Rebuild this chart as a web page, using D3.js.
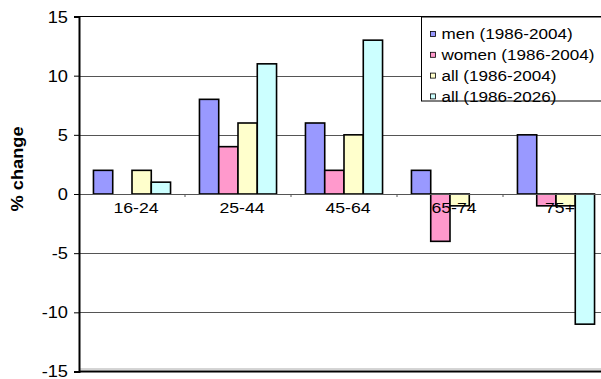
<!DOCTYPE html>
<html>
<head>
<meta charset="utf-8">
<script src="https://cdn.jsdelivr.net/npm/d3@7"></script>
<style>
  html, body { margin: 0; padding: 0; background: #fff; overflow: hidden; }
  svg { display: block; }
  text { font-family: "Liberation Sans", Arial, Helvetica, sans-serif; fill: #000; }
</style>
</head>
<body>
<svg id="chart" width="601" height="379"></svg>
<script>
// Age groups along the category axis
const categories = ["16-24", "25-44", "45-64", "65-74", "75+"];

// Series names (legend order) and their values, % change per age group
const seriesNames = ["men (1986-2004)", "women (1986-2004)", "all (1986-2004)", "all (1986-2026)"];
const men1986_2004   = [2, 8, 6, 2, 5];
const women1986_2004 = [0, 4, 2, -4, -1];
const all1986_2004   = [2, 6, 5, -1, -1];
const all1986_2026   = [1, 11, 13, 0, -11];
const seriesValues = [men1986_2004, women1986_2004, all1986_2004, all1986_2026];

// Value axis ticks
const yTicks = [-15, -10, -5, 0, 5, 10, 15];

const seriesColors = ["#9999ff", "#ff99cc", "#ffffcc", "#ccffff"];

const svg = d3.select("#chart");
const stretch = 1.14; // horizontal glyph widening for the label font

const plot = { left: 79, right: 609, top: 16.5, bottom: 371.5 };

const x = d3.scaleBand().domain(categories).range([plot.left, plot.right]).paddingInner(0).paddingOuter(0);
const y = d3.scaleLinear().domain([-15, 15]).range([plot.bottom, plot.top]);

// Bars sit in the middle of each band, gap = 1.5 bar widths
const barW = x.bandwidth() / 5.5;
const xs = d3.scaleBand().domain(d3.range(seriesNames.length))
  .range([0.75 * barW, 0.75 * barW + seriesNames.length * barW]).padding(0);

// Horizontal gridlines
svg.append("g").selectAll("line")
  .data(yTicks.filter(t => t !== -15 && t !== 15 && t !== 0))
  .join("line")
  .attr("x1", plot.left).attr("x2", plot.right)
  .attr("y1", d => Math.round(y(d)) + 0.5).attr("y2", d => Math.round(y(d)) + 0.5)
  .attr("stroke", "#555").attr("stroke-width", 1);

// Top edge of the plot area
svg.append("line")
  .attr("x1", plot.left).attr("x2", plot.right)
  .attr("y1", y(15)).attr("y2", y(15))
  .attr("stroke", "#000").attr("stroke-width", 1.2);

// Bottom edge of the plot area
svg.append("line")
  .attr("x1", plot.left).attr("x2", plot.right)
  .attr("y1", y(-15) - 2.5).attr("y2", y(-15) - 2.5)
  .attr("stroke", "#aaa").attr("stroke-width", 1);
svg.append("line")
  .attr("x1", plot.left).attr("x2", plot.right)
  .attr("y1", y(-15)).attr("y2", y(-15))
  .attr("stroke", "#000").attr("stroke-width", 2);

// Bars
const groups = svg.append("g").selectAll("g")
  .data(categories)
  .join("g")
  .attr("transform", d => `translate(${x(d)},0)`);

groups.selectAll("rect")
  .data((c, i) => seriesValues.map((vals, s) => ({ s, v: vals[i] })).filter(d => d.v !== 0))
  .join("rect")
  .attr("x", d => xs(d.s))
  .attr("width", xs.bandwidth())
  .attr("y", d => y(Math.max(0, d.v)))
  .attr("height", d => Math.abs(y(d.v) - y(0)))
  .attr("fill", d => seriesColors[d.s])
  .attr("stroke", "#000")
  .attr("stroke-width", 1.6);

// Category axis at zero
const xAxisG = svg.append("g");
xAxisG.append("line")
  .attr("x1", plot.left).attr("x2", plot.right)
  .attr("y1", y(0) + 0.5).attr("y2", y(0) + 0.5)
  .attr("stroke", "#555").attr("stroke-width", 1);
xAxisG.selectAll("line.tick")
  .data(categories.slice(1))
  .join("line")
  .attr("class", "tick")
  .attr("x1", d => x(d)).attr("x2", d => x(d))
  .attr("y1", y(0)).attr("y2", y(0) + 3)
  .attr("stroke", "#555").attr("stroke-width", 1);
xAxisG.selectAll("text")
  .data(categories)
  .join("text")
  .attr("transform", d => `translate(${x(d) + x.bandwidth() / 2 + 4},${y(0) + 19}) scale(${stretch},1)`)
  .attr("text-anchor", "middle")
  .attr("font-size", "15.5px")
  .text(d => d);

// Value axis (labels use a plain hyphen for negatives)
const yAxis = d3.axisLeft(y).tickValues(yTicks).tickSize(5).tickPadding(0).tickFormat(d => String(d));
const yAxisG = svg.append("g").attr("transform", `translate(${plot.left},0)`).call(yAxis);
yAxisG.select(".domain").attr("stroke", "#000").attr("stroke-width", 2);
yAxisG.selectAll(".tick line").attr("stroke", "#000").attr("stroke-width", 1);
yAxisG.selectAll(".tick text").remove();
yAxisG.selectAll(".tick").append("text")
  .attr("transform", d => `translate(-11,${d === -15 ? -1 : 0}) scale(${stretch},1)`)
  .attr("text-anchor", "end")
  .attr("dy", "0.35em")
  .attr("font-size", "16px")
  .attr("fill", "#000")
  .attr("font-family", "\"Liberation Sans\", Arial, Helvetica, sans-serif")
  .text(d => String(d));

// Value axis title
svg.append("text")
  .attr("transform", `translate(23,${(plot.top + plot.bottom) / 2 - 25}) rotate(-90) scale(${stretch},1)`)
  .attr("text-anchor", "middle")
  .attr("font-size", "16px")
  .attr("font-weight", "bold")
  .text("% change");

// Legend
const legend = svg.append("g").attr("transform", "translate(421.5,17)");
legend.append("rect")
  .attr("x", 0).attr("y", 0).attr("width", 200).attr("height", 84)
  .attr("fill", "#fff").attr("stroke", "#000").attr("stroke-width", 1);
const items = legend.selectAll("g")
  .data(seriesNames)
  .join("g")
  .attr("transform", (d, i) => `translate(0,${17 + i * 20.8})`);
items.append("rect")
  .attr("x", 9).attr("y", -2.5).attr("width", 5).attr("height", 5)
  .attr("fill", (d, i) => seriesColors[i])
  .attr("stroke", "#000").attr("stroke-width", 0.8);
items.append("text")
  .attr("transform", `translate(20,0) scale(${stretch},1)`)
  .attr("dy", "0.36em")
  .attr("font-size", "15px")
  .text(d => d);
</script>
</body>
</html>
